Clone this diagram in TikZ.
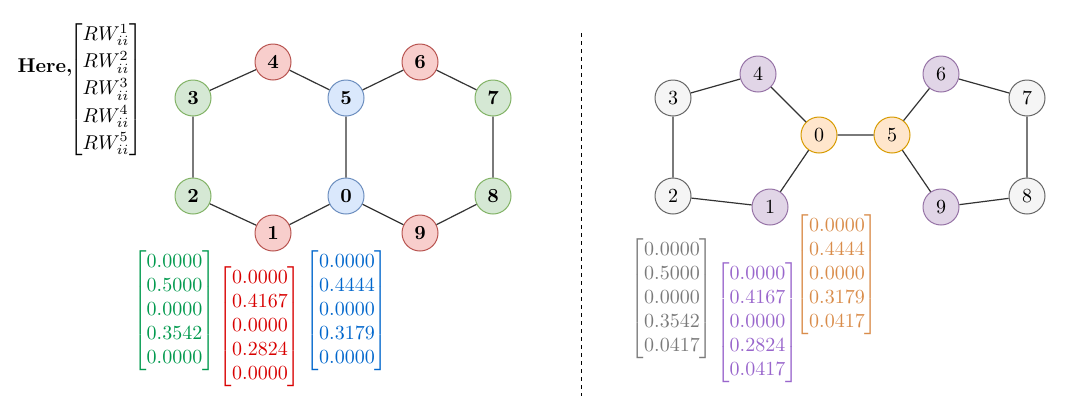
\documentclass[tikz,border=0pt]{standalone}
\usepackage{amsmath}
\definecolor{gfill}{HTML}{D5E8D4}\definecolor{gline}{HTML}{82B366}
\definecolor{rfill}{HTML}{F8CECC}\definecolor{rline}{HTML}{B85450}
\definecolor{bfill}{HTML}{DAE8FC}\definecolor{bline}{HTML}{6C8EBF}
\definecolor{kfill}{HTML}{F5F5F5}\definecolor{kline}{HTML}{666666}
\definecolor{pfill}{HTML}{E1D5E7}\definecolor{pline}{HTML}{9673A6}
\definecolor{ofill}{HTML}{FFE6CC}\definecolor{oline}{HTML}{D79B00}
\definecolor{gtext}{HTML}{00994D}
\definecolor{rtext}{HTML}{D80000}
\definecolor{btext}{HTML}{0066CC}
\definecolor{ktext}{HTML}{7A7A7A}
\definecolor{ptext}{HTML}{9966CC}
\definecolor{otext}{HTML}{D98C4A}
\definecolor{edgec}{HTML}{333333}
\tikzset{
  vtx/.style={circle,minimum size=18pt,inner sep=0pt,line width=0.5pt},
  gv/.style={vtx,draw=gline,fill=gfill},
  rv/.style={vtx,draw=rline,fill=rfill},
  bv/.style={vtx,draw=bline,fill=bfill},
  kv/.style={vtx,draw=kline,fill=kfill},
  pv/.style={vtx,draw=pline,fill=pfill},
  ov/.style={vtx,draw=oline,fill=ofill},
  lbl/.style={font=\bfseries},
  edge/.style={draw=edgec,line width=0.6pt},
  mat/.style={inner sep=0pt},
}
\begin{document}
\begin{tikzpicture}[x=0.5pt,y=-0.5pt]
\useasboundingbox (0,0) rectangle (1080,413);
% header
\node[font=\bfseries] (here) at (45,68) {Here,};
\node[mat] (rw) at (106,89.5) {\renewcommand\arraystretch{1.13}$\begin{bmatrix} RW_{ii}^{1}\\ RW_{ii}^{2}\\ RW_{ii}^{3}\\ RW_{ii}^{4}\\ RW_{ii}^{5}\end{bmatrix}$};
% left graph
\node[gv,lbl] (L3) at (193,98) {3};
\node[rv,lbl] (L4) at (273,62) {4};
\node[bv,lbl] (L5) at (346,98) {5};
\node[rv,lbl] (L6) at (420,62) {6};
\node[gv,lbl] (L7) at (493,98) {7};
\node[gv,lbl] (L2) at (193,196) {2};
\node[rv,lbl] (L1) at (273,233) {1};
\node[bv,lbl] (L0) at (346,196) {0};
\node[rv,lbl] (L9) at (420,233) {9};
\node[gv,lbl] (L8) at (493,196) {8};
\draw[edge] (L3)--(L4) (L4)--(L5) (L5)--(L6) (L6)--(L7) (L7)--(L8)
  (L8)--(L9) (L9)--(L0) (L0)--(L1) (L1)--(L2) (L2)--(L3) (L5)--(L0);
% left vectors
\node[mat,text=gtext] (gvec) at (174.5,310.5) {$\begin{bmatrix}0.0000\\0.5000\\0.0000\\0.3542\\0.0000\end{bmatrix}$};
\node[mat,text=rtext] (rvec) at (260,326.5) {$\begin{bmatrix}0.0000\\0.4167\\0.0000\\0.2824\\0.0000\end{bmatrix}$};
\node[mat,text=btext] (bvec) at (347,310.5) {$\begin{bmatrix}0.0000\\0.4444\\0.0000\\0.3179\\0.0000\end{bmatrix}$};
% divider
\coordinate (dtop) at (581,33);
\coordinate (dbot) at (581,396);
\draw[black,line width=0.5pt,dash pattern=on 2pt off 2pt] (dtop)--(dbot);
% right graph
\node[kv] (R3) at (673,98) {3};
\node[pv] (R4) at (758,74) {4};
\node[ov] (R0) at (819,135) {0};
\node[ov] (R5) at (892,135) {5};
\node[pv] (R6) at (941,74) {6};
\node[kv] (R7) at (1027,98) {7};
\node[kv] (R2) at (673,196) {2};
\node[pv] (R1) at (770,207) {1};
\node[pv] (R9) at (941,207) {9};
\node[kv] (R8) at (1027,196) {8};
\draw[edge] (R3)--(R4) (R4)--(R0) (R0)--(R1) (R1)--(R2) (R2)--(R3) (R0)--(R5)
  (R5)--(R6) (R6)--(R7) (R7)--(R8) (R8)--(R9) (R9)--(R5);
% right vectors
\node[mat,text=ktext] (kvec) at (672,298.5) {$\begin{bmatrix}0.0000\\0.5000\\0.0000\\0.3542\\0.0417\end{bmatrix}$};
\node[mat,text=ptext] (pvec) at (757.5,323) {$\begin{bmatrix}0.0000\\0.4167\\0.0000\\0.2824\\0.0417\end{bmatrix}$};
\node[mat,text=otext] (ovec) at (837,274.5) {$\begin{bmatrix}0.0000\\0.4444\\0.0000\\0.3179\\0.0417\end{bmatrix}$};
\end{tikzpicture}
\end{document}
